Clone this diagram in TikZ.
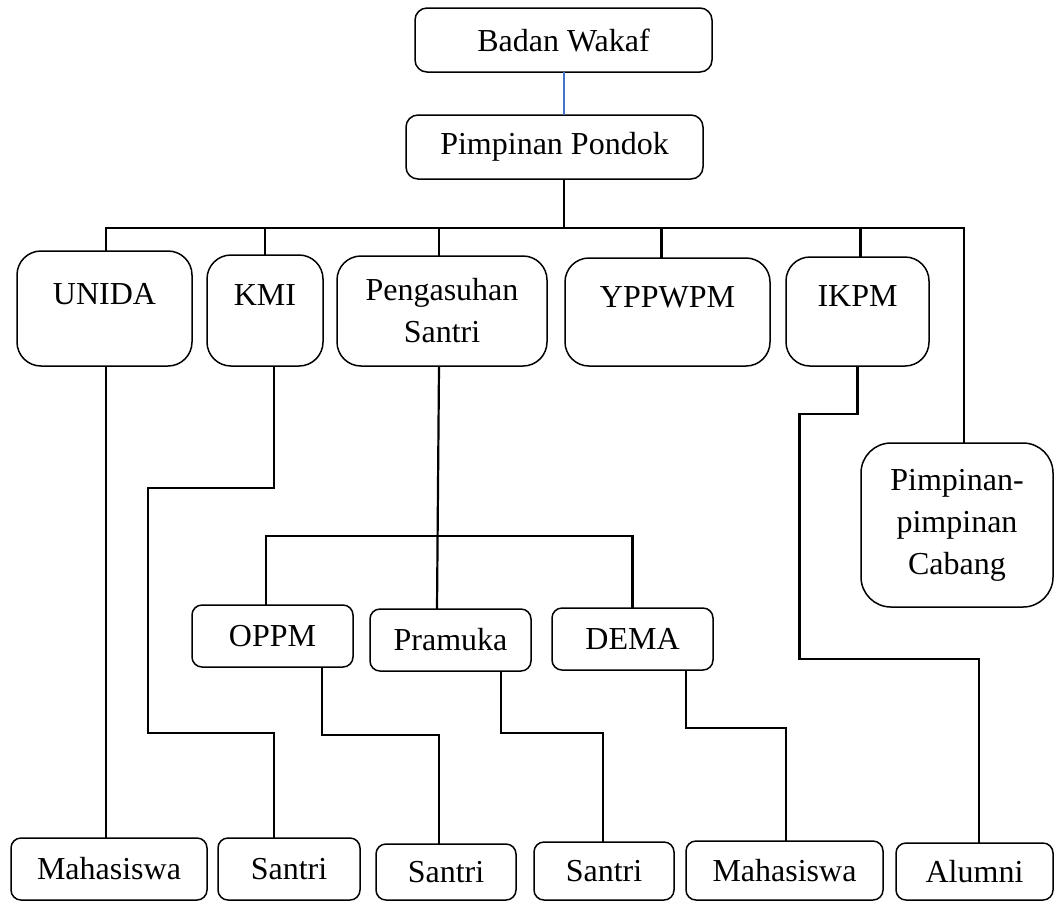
\documentclass[tikz,border=0pt]{standalone}
\usepackage{fontspec}
\setmainfont{Liberation Serif}
\usepackage{xcolor}
\usepackage{tikz}
\usetikzlibrary{calc}

\definecolor{wakafblue}{RGB}{68,114,196}

\begin{document}
\begin{tikzpicture}[
  x=0.5pt, y=-0.5pt,
  font=\fontsize{16}{21}\selectfont,
  box/.style={draw=black, line width=0.75pt, rounded corners=5pt,
              align=center, inner sep=0pt, outer sep=0pt},
  bigbox/.style={box, rounded corners=12pt},
  boxsize/.style 2 args={minimum width=#1*0.5pt, minimum height=#2*0.5pt},
  toptxt/.style={text depth=15pt},
  conn/.style={line width=1.1pt, black},
  blueln/.style={line width=1pt, wakafblue}
]
\useasboundingbox (0,0) rectangle (1054,902);

% ---- top ----
\node[box, rounded corners=6pt, boxsize={297}{64}] (wakaf) at (563.5,40) {Badan Wakaf};
\node[box, rounded corners=6pt, boxsize={297}{64}] (pondok) at (554.5,147) {Pimpinan Pondok};

% ---- first level ----
\node[bigbox, toptxt, boxsize={175}{115}] (unida)  at (104.5,308.5) {UNIDA};
\node[bigbox, toptxt, boxsize={116}{111}] (kmi)    at (265,310.5)   {KMI};
\node[bigbox, boxsize={210}{110}]         (asuh)   at (442,311)     {Pengasuhan\\ Santri};
\node[bigbox, toptxt, boxsize={205}{108}] (yppwpm) at (667.5,312)   {YPPWPM};
\node[bigbox, toptxt, boxsize={143}{109}] (ikpm)   at (857.5,311.5) {IKPM};
\node[box, rounded corners=15pt, boxsize={192}{164}] (cabang) at (957,525)
  {Pimpinan-\\ pimpinan\\ Cabang};

% ---- second level ----
\node[box, boxsize={161}{62}] (oppm)    at (272.5,636) {OPPM};
\node[box, boxsize={161}{62}] (pramuka) at (450.5,640) {Pramuka};
\node[box, boxsize={161}{62}] (dema)    at (632.5,639) {DEMA};

% ---- bottom row ----
\node[box, boxsize={196}{62}] (mhs1)    at (109,869)     {Mahasiswa};
\node[box, boxsize={142}{62}] (santri1) at (289,869)     {Santri};
\node[box, boxsize={140}{56}] (santri2) at (446,872)     {Santri};
\node[box, boxsize={140}{58}] (santri3) at (604,871)     {Santri};
\node[box, boxsize={197}{59}] (mhs2)    at (784.5,870.5) {Mahasiswa};
\node[box, boxsize={157}{57}] (alumni)  at (974.5,871.5) {Alumni};

% ---- bus ----
\coordinate (busR) at (964,228);

% ---- lines ----
\draw[blueln] (wakaf.south) -- (wakaf.south |- pondok.north);
\draw[conn] ([shift={(9.5,0)}]pondok.south) -- ([shift={(9.5,0)}]pondok.south |- busR);
\draw[conn] ([shift={(1.5,0)}]unida.north) |- (busR) -- (busR |- cabang.north);
\foreach \n/\dx in {kmi/0, asuh/-3, yppwpm/-6, ikpm/3}
  \draw[conn] ([shift={(\dx,0)}]\n.north) -- ([shift={(\dx,0)}]\n.north |- busR);

\draw[conn] ([shift={(-3,0)}]asuh.south) -- ([shift={(-13.5,0)}]pramuka.north);
\draw[conn] ([shift={(-6.5,0)}]oppm.north) -- ++(0,-69) -| (dema.north);

\draw[conn] ([shift={(1.5,0)}]unida.south) -- ([shift={(1.5,0)}]unida.south |- mhs1.north);
\draw[conn] ([shift={(9,0)}]kmi.south) |- ++(-126,122) -- ++(0,245)
  -| ([shift={(-15,0)}]santri1.north);
\draw[conn] ([shift={(49.5,0)}]oppm.south) -- ++(0,68) -| ([shift={(-7,0)}]santri2.north);
\draw[conn] ([shift={(50.5,0)}]pramuka.south) -- ++(0,62) -| ([shift={(-1,0)}]santri3.north);
\draw[conn] ([shift={(53.5,0)}]dema.south) -- ++(0,58) -| ([shift={(1.5,0)}]mhs2.north);
\draw[conn] (ikpm.south) |- ++(-58,48) -- ++(0,245) -| ([shift={(4.5,0)}]alumni.north);
\end{tikzpicture}
\end{document}
